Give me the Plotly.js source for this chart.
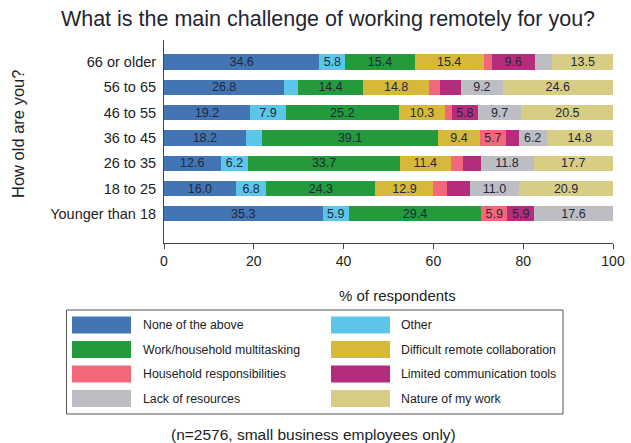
<!DOCTYPE html>
<html>
<head>
<meta charset="utf-8">
<script src="https://cdn.plot.ly/plotly-3.0.1.min.js"></script>
<style>html,body{margin:0;padding:0;background:#fff;}#chart{width:631px;height:443px;}</style>
</head>
<body>
<div id="chart"></div>
<script>
// Categories (bottom to top)
var ageGroups = ["Younger than 18", "18 to 25", "26 to 35", "36 to 45", "46 to 55", "56 to 65", "66 or older"];
// Series values (% of respondents), same order as ageGroups
var noneOfTheAbove      = [35.3, 16.0, 12.6, 18.2, 19.2, 26.8, 34.6];
var other               = [5.9, 6.8, 6.2, 3.7, 7.9, 3.1, 5.8];
var workHousehold       = [29.4, 24.3, 33.7, 39.1, 25.2, 14.4, 15.4];
var difficultRemote     = [0.0, 12.9, 11.4, 9.4, 10.3, 14.8, 15.4];
var householdResp       = [5.9, 3.1, 2.7, 5.7, 1.5, 2.4, 1.8];
var limitedComm         = [5.9, 5.0, 3.9, 2.9, 5.8, 4.7, 9.6];
var lackResources       = [17.6, 11.0, 11.8, 6.2, 9.7, 9.2, 3.9];
var natureOfWork        = [0.0, 20.9, 17.7, 14.8, 20.5, 24.6, 13.5];
var seriesNames = ["None of the above", "Other", "Work/household multitasking", "Difficult remote collaboration",
                   "Household responsibilities", "Limited communication tools", "Lack of resources", "Nature of my work"];
var xTicks = [0, 20, 40, 60, 80, 100];

var seriesValues = [noneOfTheAbove, other, workHousehold, difficultRemote, householdResp, limitedComm, lackResources, natureOfWork];
var colors = ["#4374b3", "#5cc6ea", "#239a3c", "#d6b93a", "#f2687a", "#b42d7c", "#bdbec3", "#d8cd84"];

var traces = seriesValues.map(function(vals, i){
  return {
    type: "bar", orientation: "h", name: seriesNames[i],
    y: ageGroups, x: vals,
    marker: {color: colors[i], line: {width: 0}},
    width: 0.6,
    text: vals.map(function(v){ return v >= 5.5 ? v.toFixed(1) : ""; }),
    textposition: "inside", insidetextanchor: "middle",
    textfont: {family: "Liberation Sans, Arial, sans-serif", size: 12.5, color: "#1e2a3a"},
    constraintext: "none",
    hoverinfo: "skip", showlegend: false
  };
});

var font = "Liberation Sans, Arial, sans-serif";
var W = 631 - 164 - 18, H = 443 - 40 - 200;
function px2x(p){ return (p - 164) / W; }
function py2y(p){ return (243 - p) / H; }
var shapes = [
  // legend box
  {type: "rect", xref: "paper", yref: "paper", x0: px2x(66.5), x1: px2x(563), y0: py2y(414), y1: py2y(310),
   line: {color: "#555", width: 1}, fillcolor: "rgba(0,0,0,0)"}
];
var annotations = [
  {text: "How old are you?", xref: "paper", yref: "paper", x: px2x(18), y: py2y(134), xanchor: "center", yanchor: "middle",
   textangle: -90, showarrow: false, font: {family: font, size: 16.5, color: "#222"}},
  {text: "% of respondents", xref: "paper", yref: "paper", x: px2x(397), y: py2y(295), xanchor: "center", yanchor: "middle",
   showarrow: false, font: {family: font, size: 15, color: "#222"}},
  {text: "(n=2576, small business employees only)", xref: "paper", yref: "paper", x: px2x(313), y: py2y(434),
   xanchor: "center", yanchor: "middle", showarrow: false, font: {family: font, size: 15.5, color: "#222"}}
];
// legend built from names/colours
var rowY = [325, 349.5, 374, 398.5];
var colX = [{s0: 72, s1: 131, t: 141}, {s0: 331, s1: 390, t: 399}];
seriesNames.forEach(function(nm, i){
  var r = Math.floor(i / 2), c = i % 2;
  shapes.push({type: "rect", xref: "paper", yref: "paper",
    x0: px2x(colX[c].s0), x1: px2x(colX[c].s1), y0: py2y(rowY[r] + 8.5), y1: py2y(rowY[r] - 8.5),
    line: {width: 0}, fillcolor: colors[i]});
  annotations.push({text: nm, xref: "paper", yref: "paper", x: px2x(colX[c].t), y: py2y(rowY[r]),
    xanchor: "left", yanchor: "middle", showarrow: false, font: {family: font, size: 12.3, color: "#222"}});
});

var layout = {
  width: 631, height: 443,
  margin: {l: 164, r: 18, t: 40, b: 200},
  paper_bgcolor: "#fff", plot_bgcolor: "#fff",
  barmode: "stack", bargap: 0.4,
  title: {text: "What is the main challenge of working remotely for you?", x: 328 / 631, xanchor: "center",
          y: 1 - 18 / 443, yanchor: "middle",
          font: {family: font, size: 21.5, color: "#1f2533"}},
  xaxis: {range: [0, 100], tickvals: xTicks, ticktext: xTicks.map(String), ticks: "outside", ticklen: 5, tickcolor: "#444",
          showline: true, linecolor: "#444", linewidth: 1, showgrid: false, zeroline: false,
          tickfont: {family: font, size: 14, color: "#222"}, fixedrange: true},
  yaxis: {range: [-1.15, 6.87], showline: true, linecolor: "#444", linewidth: 1, ticks: "", showgrid: false, zeroline: false,
          tickfont: {family: font, size: 14.5, color: "#222"}, ticklabelstandoff: 4, fixedrange: true},
  shapes: shapes, annotations: annotations, showlegend: false
};
Plotly.newPlot("chart", traces, layout, {displayModeBar: false, staticPlot: true});
</script>
</body>
</html>
